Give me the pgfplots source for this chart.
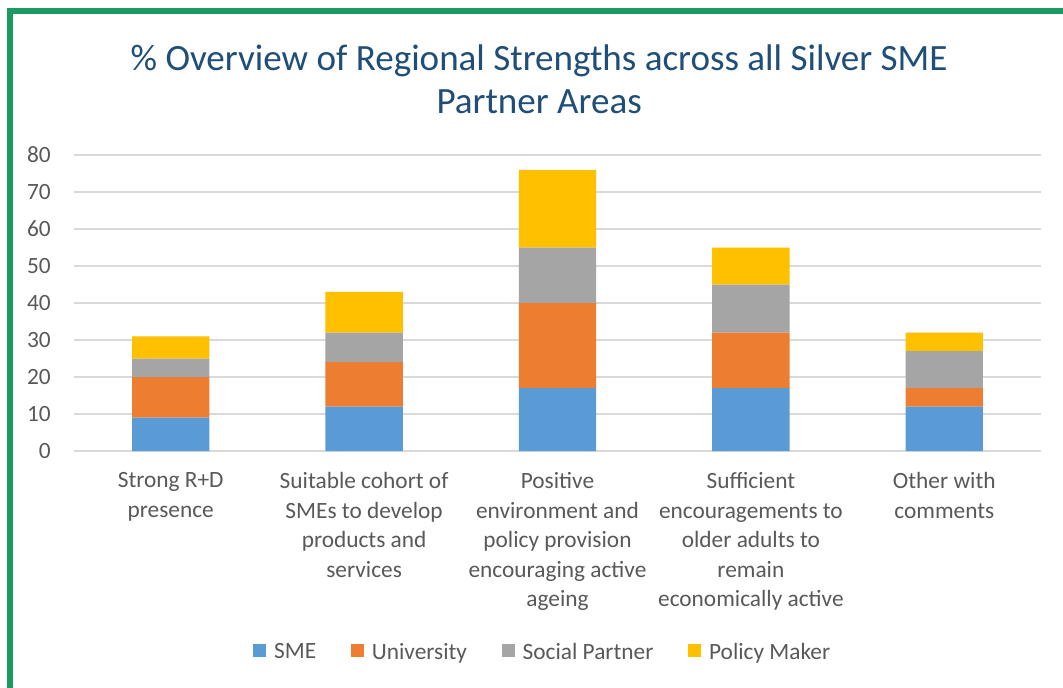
\documentclass[border=0pt]{standalone}
\usepackage{fontspec}
\setmainfont{Carlito}
\usepackage{pgfplots}
\pgfplotsset{compat=1.18}
\definecolor{smeblue}{HTML}{5B9BD5}
\definecolor{uniorange}{HTML}{ED7D31}
\definecolor{socgray}{HTML}{A5A5A5}
\definecolor{polyellow}{HTML}{FFC000}
\definecolor{gridgray}{HTML}{D9D9D9}
\definecolor{txtgray}{HTML}{595959}
\definecolor{titleblue}{RGB}{31,78,121}
\definecolor{framegreen}{RGB}{27,155,98}
\begin{document}
\begin{tikzpicture}
\useasboundingbox (0,0) rectangle (797.25pt,515.25pt);
\fill[white] (0,0) rectangle (797.25pt,515.25pt);
\draw[framegreen, line width=4.5pt, line join=miter] (7.5pt,-10pt) -- (7.5pt,507pt) -- (810pt,507pt);
\begin{axis}[
  at={(55.5pt,177pt)}, anchor=south west,
  scale only axis, width=725.25pt, height=222pt,
  ybar stacked, bar width=0.4,
  xmin=-0.5, xmax=4.5, ymin=0, ymax=80,
  ytick={0,10,...,80},
  xtick={0,1,2,3,4},
  xticklabels={{Strong R+D\\presence},
    {Suitable cohort of\\SMEs to develop\\products and\\services},
    {Positive\\environment and\\policy provision\\encouraging active\\ageing},
    {Sufficient\\encouragements to\\older adults to\\remain\\economically active},
    {Other with\\comments}},
  axis line style={draw=none},
  tick style={draw=none},
  ymajorgrids, grid style={gridgray, line width=1.1pt},
  /pgf/number format/assume math mode=true,
  yticklabel style={font=\fontsize{17.5}{21}\selectfont, text=txtgray, inner sep=0pt, anchor=east, xshift=-17.25pt},
  xticklabel style={font=\fontsize{17.5}{22.1}\selectfont, text=txtgray, inner sep=0pt, anchor=north, align=center, yshift=-16pt},
  title={\% Overview of Regional Strengths across all Silver SME\\Partner Areas},
  title style={at={(0.481,1.348)}, anchor=north, inner sep=0pt, align=center, font=\fontsize{27.8}{32.5}\selectfont, text=titleblue},
  legend columns=4,
  legend style={at={(0.485,-0.679)}, anchor=center, draw=none, fill=none, font=\fontsize{17.5}{21}\selectfont, text=txtgray,
    /tikz/every odd column/.append style={column sep=4pt},
    /tikz/every even column/.append style={column sep=24pt}},
  legend image code/.code={\fill[#1] (0pt,-3.5pt) rectangle (9.75pt,6.25pt);},
]
\addplot[fill=smeblue, draw=none] coordinates {(0,9) (1,12) (2,17) (3,17) (4,12)};
\addplot[fill=uniorange, draw=none] coordinates {(0,11) (1,12) (2,23) (3,15) (4,5)};
\addplot[fill=socgray, draw=none] coordinates {(0,5) (1,8) (2,15) (3,13) (4,10)};
\addplot[fill=polyellow, draw=none] coordinates {(0,6) (1,11) (2,21) (3,10) (4,5)};
\legend{SME, University, Social Partner, Policy Maker}
\end{axis}
\end{tikzpicture}
\end{document}
